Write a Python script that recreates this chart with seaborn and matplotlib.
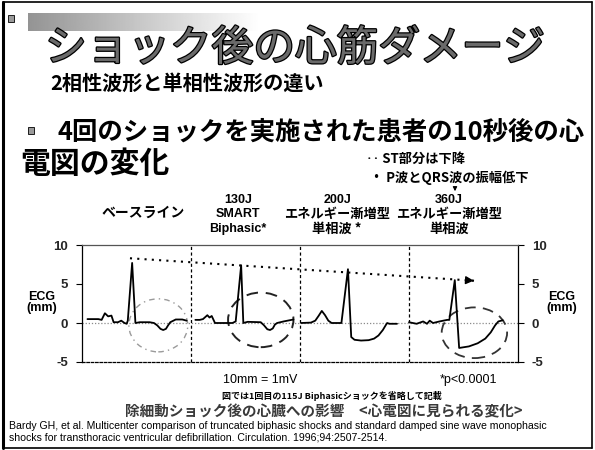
import numpy as np
import pandas as pd
import matplotlib
matplotlib.use("Agg")
import matplotlib.pyplot as plt
import matplotlib.patheffects as pe
from matplotlib.patches import Ellipse, Rectangle, FancyArrowPatch
from matplotlib.lines import Line2D
import seaborn as sns

# ---------------------------------------------------------------- data
panel_headers = [
    ["ベースライン"],
    ["130J", "SMART", "Biphasic*"],
    ["200J", "エネルギー漸増型", "単相波 *"],
    ["360J", "エネルギー漸増型", "単相波"],
]

# ECG traces 10 s after each shock: time as fraction of the panel, amplitude in mm
baseline_t = [0.05, 0.15, 0.18, 0.21, 0.24, 0.27, 0.29, 0.33, 0.36, 0.39, 0.41, 0.42,
              0.46, 0.49, 0.53, 0.62, 0.66, 0.69, 0.72, 0.745, 0.77, 0.79, 0.81, 0.86, 0.92, 0.96]
baseline_mm = [0.5, 0.5, 0.4, 1.25, 0.85, 0.95, 0.1, 0.1, 0.3, 0.0, -0.1, 0.3,
               7.7, 0.0, 0.1, 0.1, 0.0, -0.3, -0.75, -0.9, -0.75, -0.3, 0.1, 0.45, 0.45, 0.3]

smart_t = [0.04, 0.08, 0.11, 0.15, 0.17, 0.19, 0.22, 0.38, 0.41, 0.46, 0.48, 0.52,
           0.64, 0.67, 0.70, 0.725, 0.75, 0.77, 0.79, 0.85, 0.94]
smart_mm = [0.4, 0.4, 0.5, 1.0, 0.7, 0.9, 0.0, 0.0, 0.2, 7.4, 0.0, 0.15,
            0.1, -0.3, -0.8, -0.9, -0.7, -0.2, 0.0, 0.2, 0.45]

mono200_t = [0.01, 0.10, 0.14, 0.17, 0.20, 0.23, 0.26, 0.29, 0.38, 0.44, 0.47, 0.50,
             0.56, 0.63, 0.68, 0.72, 0.76, 0.79, 0.80, 0.82, 0.89]
mono200_mm = [0.0, 0.05, 0.3, 0.9, 1.55, 1.0, 0.3, 0.0, 0.0, 6.9, -1.8, -2.15,
              -2.25, -2.2, -2.0, -1.6, -0.9, -0.2, 0.0, -0.1, -0.1]

mono360_t = [0.0, 0.07, 0.13, 0.165, 0.19, 0.22, 0.28, 0.35, 0.37, 0.42, 0.46, 0.55,
             0.63, 0.70, 0.75, 0.79, 0.82, 0.86]
mono360_mm = [0.1, -0.1, 0.2, -0.1, 0.3, 0.0, 0.2, 0.4, 0.4, 5.5, -3.2, -3.0,
              -2.6, -2.0, -1.2, -0.3, 0.2, 0.35]

y_ticks = [-5, 0, 5, 10]
y_tick_labels = ["-5", "0", "5", "10"]

# circled ST segments: (centre x, centre y, width, height)
circle_baseline = (0.70, -0.3, 0.54, 6.8)
circle_smart = (1.64, 0.4, 0.60, 7.0)
circle_mono360 = (3.60, -1.25, 0.60, 6.5)

# falling R-wave trend arrow
trend_start = (0.44, 8.3)
trend_end = (3.62, 5.4)

# ---------------------------------------------------------------- setup
sns.set_theme(style="white")
plt.rcParams["font.family"] = ["Noto Sans CJK JP", "DejaVu Sans"]
W, H = 595, 450
fig = plt.figure(figsize=(W / 100, H / 100), dpi=100)
fig.patch.set_facecolor("white")


def fx(px):
    return px / W


def fy(py):
    return 1 - py / H


def ftext(px, py, s, size, ha="left", va="center", weight="bold", family=None,
          color="black", **kw):
    kwargs = dict(fontsize=size, ha=ha, va=va, weight=weight, color=color)
    if family is not None:
        kwargs["family"] = family
    kwargs.update(kw)
    return fig.text(fx(px), fy(py), s, **kwargs)


# slide frame
for (x0, y0, x1, y1, lw) in [(3, 2, 3, 448, 2.2), (3, 2, 592, 2, 1.2),
                              (592, 2, 592, 448, 1.2), (3, 448, 592, 448, 1.2)]:
    fig.add_artist(Line2D([fx(x0), fx(x1)], [fy(y0), fy(y1)], color="black", lw=lw))

# grey fading band behind the title
band = fig.add_axes([fx(28), fy(31), fx(232), 18 / H])
band.imshow(np.linspace(0.58, 1.0, 256)[None, :], cmap="gray", vmin=0, vmax=1,
            aspect="auto", interpolation="bilinear")
band.axis("off")

# small slide icons
for (x, y) in [(8, 15), (28, 127)]:
    fig.add_artist(Rectangle((fx(x), fy(y + 7)), 6 / W, 7 / H, facecolor="#9a9a9a",
                             edgecolor="black", lw=0.6))

# headings
ftext(45, 49, "ショック後の心筋ダメージ", 30, weight="normal", color="#6a6a6a",
      path_effects=[pe.withStroke(linewidth=1.8, foreground="black")])
ftext(50, 83, "2相性波形と単相性波形の違い", 14.5)
ftext(57, 132, "4回のショックを実施された患者の10秒後の心", 18.3)
ftext(20, 164, "電図の変化", 21.5)
ftext(366, 159, "‥ ST部分は下降", 9.5)
ftext(370, 178, "・ P波とQRS波の振幅低下", 9.5)
fig.add_artist(FancyArrowPatch(
    (fx(455), fy(185)), (fx(455), fy(194)), transform=fig.transFigure,
    arrowstyle="-|>", mutation_scale=6, lw=0.8, color="black"))

header_x = [143, 238, 337, 449]
header_y = [[213], [200, 214, 229], [200, 214, 229], [200, 214, 229]]
for hx, lines, ys in zip(header_x, panel_headers, header_y):
    for line, hy in zip(lines, ys):
        latin = all(ord(c) < 128 for c in line)
        if latin:
            ftext(hx, hy, line, 9, ha="center", weight="bold", family="Liberation Sans")
        else:
            ftext(hx, hy, line, 10 if len(lines) == 1 else 9.5, ha="center")

# ---------------------------------------------------------------- ECG panel
ax = fig.add_axes([fx(82), fy(362), fx(436), 117 / H])
traces = [(baseline_t, baseline_mm), (smart_t, smart_mm),
          (mono200_t, mono200_mm), (mono360_t, mono360_mm)]
frames = []
for i, (t, mm) in enumerate(traces):
    frames.append(pd.DataFrame({"panel": i, "x": np.asarray(t) + i, "mm": mm}))
ecg = pd.concat(frames, ignore_index=True)

ax.axhline(0, color="#8a8a8a", lw=0.9, ls=(0, (1, 1.5)), zorder=1)
for b in (1, 2, 3):
    ax.axvline(b, color="black", lw=0.9, ls=(0, (2.5, 2)), zorder=1)

sns.lineplot(data=ecg, x="x", y="mm", units="panel", estimator=None, sort=False,
             color="black", lw=1.3, ax=ax, zorder=3)

# circled ST segments
for (cx, cy, w, h), style, col, lw in [
        (circle_baseline, (0, (4, 3, 1, 3)), "#9a9a9a", 1.0),
        (circle_smart, (0, (6, 4)), "#222222", 1.4),
        (circle_mono360, (0, (6, 4)), "#333333", 1.3)]:
    ax.add_patch(Ellipse((cx, cy), w, h, fill=False, ls=style, ec=col, lw=lw,
                         clip_on=False, zorder=2))

# dotted trend arrow over the R-wave peaks
ax.plot([trend_start[0], trend_end[0]], [trend_start[1], trend_end[1]],
        color="black", lw=1.5, ls=(0, (1, 2.5)), zorder=2)
ax.annotate("", xy=trend_end, xytext=(trend_end[0] - 0.06, trend_end[1] + 0.055),
            arrowprops=dict(arrowstyle="-|>", color="black", lw=1.0, mutation_scale=12))

ax.set_xlim(0, 4)
ax.set_ylim(-5, 10)
ax.set_xticks([])
ax.set_yticks(y_ticks)
ax.set_yticklabels(y_tick_labels, family="Liberation Sans", fontsize=9.5, weight="bold")
ax.tick_params(axis="y", which="both", left=True, right=True, labelleft=True,
               labelright=True, direction="out", length=4, width=0.8, color="black",
               pad=6)
for lab in ax.get_yticklabels():
    lab.set_family("Liberation Sans")
ax.set_xlabel("")
ax.set_ylabel("")
for side, ls, col in [("left", (0, (2, 1)), "black"), ("right", (0, (2, 1)), "black"),
                      ("top", "-", "#555555"), ("bottom", (0, (2, 1.5)), "black")]:
    ax.spines[side].set_visible(True)
    ax.spines[side].set_linestyle(ls)
    ax.spines[side].set_color(col)
    ax.spines[side].set_linewidth(0.9)
ax.set_facecolor("white")

ftext(42, 297, "ECG", 9, ha="center", family="Liberation Sans")
ftext(42, 308, "(mm)", 9, ha="center", family="Liberation Sans")
ftext(562, 297, "ECG", 9, ha="center", family="Liberation Sans")
ftext(562, 308, "(mm)", 9, ha="center", family="Liberation Sans")

# ---------------------------------------------------------------- footnotes
ftext(260, 380, "10mm = 1mV", 9, ha="center", weight="normal", family="Liberation Sans")
ftext(440, 380, "*p<0.0001", 9, ha="left", weight="normal", family="Liberation Sans")
ftext(332, 396, "図では1回目の115J Biphasicショックを省略して記載", 6.5, ha="center")
ftext(324, 411, "除細動ショック後の心臓への影響　<心電図に見られる変化>", 10.5,
      ha="center", color="#3a3a3a")
ftext(9, 426, "Bardy GH, et al. Multicenter comparison of truncated biphasic shocks and "
      "standard damped sine wave monophasic", 7.6, weight="normal", family="Liberation Sans")
ftext(9, 438, "shocks for transthoracic ventricular defibrillation. Circulation. "
      "1996;94:2507-2514.", 7.6, weight="normal", family="Liberation Sans")

fig.savefig("out.png", dpi=100)
